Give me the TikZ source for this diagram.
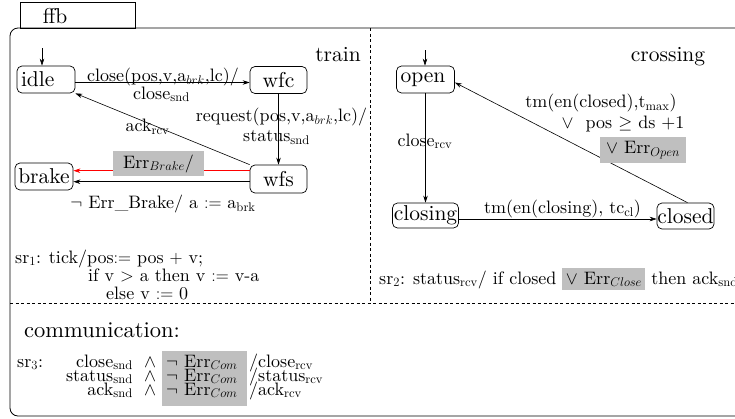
\documentclass[tikz,border=0pt]{standalone}
\usepackage{fix-cm}
\usepackage{fontspec}
\setmainfont{lmroman10-regular}[Extension=.otf, ItalicFont=lmroman10-italic, BoldFont=lmroman10-bold]
\usetikzlibrary{arrows.meta}
\newcommand{\mystatefont}{\fontsize{21.5}{24}\selectfont}
\newcommand{\mylabelfont}{\fontsize{18}{20}\selectfont}
\tikzset{
  state/.style={draw, rounded corners=5pt, line width=0.7pt, font=\mystatefont, inner sep=0pt, minimum height=27pt},
  lbl/.style={inner sep=0pt, font=\mylabelfont},
  title/.style={inner sep=0pt, font=\mystatefont},
  conn/.style={line width=0.6pt, -{Stealth[length=7pt,width=4.5pt]}},
  greybox/.style={fill=black!25, inner sep=0pt, font=\mylabelfont},
  frame/.style={line width=0.8pt},
  divider/.style={line width=0.6pt, dash pattern=on 3pt off 2.5pt},
}
\begin{document}
\begin{tikzpicture}[x=1pt,y=-1pt]
\useasboundingbox (0,0) rectangle (735,418);
\clip (0,0) rectangle (735,418);
% frame and tab
\draw[frame] (20,2) rectangle (135,28);
\node[title, anchor=base] (ffb) at (55,23) {ffb};
\draw[frame, rounded corners=8pt] (10,28) rectangle (760,416);
\draw[divider] (370,28) -- (370,303);
\draw[divider] (10,303) -- (760,303);
% ---------------- train ----------------
\node[title, anchor=base] (train) at (338,61.5) {train};
\node[state, minimum width=58pt, text width=50pt, align=left] (idle) at (46,79.5) {idle};
\node[state, minimum width=57pt] (wfc) at (278.5,80) {wfc};
\node[state, minimum width=57pt, minimum height=28pt] (wfs) at (278.5,179) {wfs};
\node[state, minimum width=58pt] (brake) at (44,176.5) {brake};
\coordinate (iidle) at (42,48);
\draw[conn] (iidle) -- (iidle |- idle.north);
\coordinate (i1) at ([yshift=-3pt]idle.east);
\draw[conn] (i1) -- (i1 -| wfc.west);
\node[lbl, anchor=base] (l1) at (163,81.5) {close(pos,v,a$_{brk}$,lc)/};
\node[lbl, anchor=base] (l2) at (161.5,99) {close$_{\mathrm{snd}}$};
\draw[conn] (wfc.south) -- (wfs.north);
\node[lbl, anchor=base] (l3) at (281.5,121.7) {request(pos,v,a$_{brk}$,lc)/};
\node[lbl, anchor=base] (l4) at (276.5,141.7) {status$_{\mathrm{snd}}$};
\draw[conn] (wfs.north west) -- (idle.south east);
\node[lbl, anchor=base] (l5) at (147.5,131.7) {ack$_{\mathrm{rcv}}$};
\coordinate (r1) at ([yshift=8.3pt]wfs.west);
\draw[conn, red] (r1) -- (r1 -| brake.east);
\node[greybox, minimum width=91pt, minimum height=25pt] (errb) at (158.5,163.5) {Err$_{Brake}$/};
\coordinate (b1) at ([yshift=-2.7pt]wfs.west);
\draw[conn] (b1) -- (b1 -| brake.east);
\node[lbl, anchor=base] (l6) at (163,208.3) {$\neg$ Err\_Brake/ a $:=$ a$_{\mathrm{brk}}$};
\node[lbl, anchor=base west] (sr1a) at (15,263) {sr$_1$: tick/pos$:=$ pos $+$ v;};
\node[lbl, anchor=base west] (sr1b) at (88,281) {if v $>$ a then v $:=$ v-a};
\node[lbl, anchor=base west] (sr1c) at (106,299) {else v $:=$ 0};
% ---------------- crossing ----------------
\node[title, anchor=base] (crossing) at (668,61.5) {crossing};
\node[state, minimum width=58pt, text width=50pt, align=left] (open) at (425.5,79.5) {open};
\node[state, minimum width=66pt, minimum height=25pt] (closing) at (425.5,215.5) {closing};
\node[state, minimum width=57pt, minimum height=26pt] (closed) at (685.5,216) {closed};
\coordinate (iopen) at (425,50);
\draw[conn] (iopen) -- (iopen |- open.north);
\draw[conn] (open.south) -- (closing.north);
\node[lbl, anchor=base] (l7) at (425,146) {close$_{\mathrm{rcv}}$};
\coordinate (c1) at ([yshift=-3.5pt]closing.east);
\draw[conn] (c1) -- (c1 -| closed.west);
\node[lbl, anchor=base] (l8) at (562.5,213.3) {tm(en(closing), tc$_{\mathrm{cl}}$)};
\draw[conn] ([xshift=2pt]closed.north) -- ([yshift=-3pt]open.east);
\node[lbl, anchor=base] (l9) at (601,107.5) {tm(en(closed),t$_{\mathrm{max}}$)};
\node[lbl, anchor=base] (l10) at (623,128.3) {$\vee$\ \ pos $\geq$ ds +1};
\node[greybox, minimum width=86pt, minimum height=26pt] (erro) at (643,150) {$\vee$ Err$_{Open}$};
\node[lbl, anchor=base west] (sr2) at (379,284) {sr$_2$: status$_{\mathrm{rcv}}$/ if closed {\setlength{\fboxsep}{3.5pt}\colorbox{black!25}{$\vee$ Err$_{Close}$}} then ack$_{\mathrm{snd}}$};
% ---------------- communication ----------------
\node[lbl, font=\fontsize{22.5}{24}\selectfont, anchor=base west] (comm) at (24,337) {communication:};
\node[greybox, minimum width=85pt, minimum height=55pt] (comgrey) at (204.5,378.5) {};
\node[lbl, anchor=base west] (sr3) at (17,367) {sr$_3$:};
\node[lbl, anchor=base east] (s1) at (133,367) {close$_{\mathrm{snd}}$};
\node[lbl, anchor=base east] (s2) at (133,381) {status$_{\mathrm{snd}}$};
\node[lbl, anchor=base east] (s3) at (133,395) {ack$_{\mathrm{snd}}$};
\node[lbl, anchor=base] (w1) at (150,367) {$\wedge$};
\node[lbl, anchor=base] (w2) at (150,381) {$\wedge$};
\node[lbl, anchor=base] (w3) at (150,395) {$\wedge$};
\node[lbl, anchor=base west] (e1) at (166,367) {$\neg$ Err$_{Com}$};
\node[lbl, anchor=base west] (e2) at (166,381) {$\neg$ Err$_{Com}$};
\node[lbl, anchor=base west] (e3) at (166,395) {$\neg$ Err$_{Com}$};
\node[lbl, anchor=base west] (o1) at (249,367) {/close$_{\mathrm{rcv}}$};
\node[lbl, anchor=base west] (o2) at (249,381) {/status$_{\mathrm{rcv}}$};
\node[lbl, anchor=base west] (o3) at (249,395) {/ack$_{\mathrm{rcv}}$};
\end{tikzpicture}
\end{document}
